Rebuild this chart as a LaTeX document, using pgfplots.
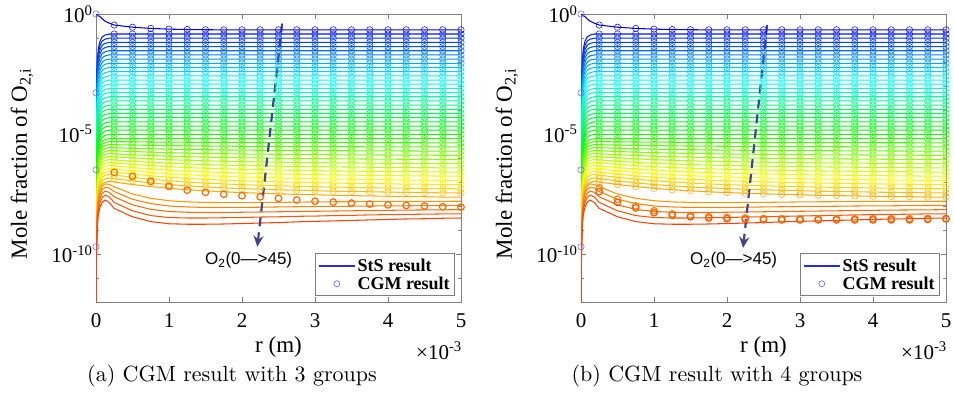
\documentclass[border=0pt]{standalone}
\usepackage{fontspec}
\setmainfont{Liberation Serif}
\newfontfamily\arialf{Liberation Sans}
\usepackage{pgfplots}
\pgfplotsset{compat=1.18}
\usepackage{pgfplotstable}
\usetikzlibrary{arrows.meta}
\definecolor{stsblue}{RGB}{40,40,240}
\definecolor{cgmblue}{RGB}{95,95,255}
\definecolor{arrowc}{RGB}{65,65,150}
\foreach \i in {0,...,45}{\pgfmathtruncatemacro\hh{240-5*\i}\edef\tmp{\noexpand\xglobal\noexpand\definecolor{lv\i}{Hsb}{\hh,1,1}}\tmp}

% StS results: one row per level, columns are the r positions (in 1e-3 m)
\pgfplotstableread{
v a0 a1 a2 a3 a4 a5 a6 a7 a8 a9 a10 a11 a12 a13 a14 a15 a16 a17 a18 a19 a20 a21 a22 a23 a24 a25 a26 a27
r 0 0.006 0.016 0.032 0.055 0.085 0.125 0.18 0.25 0.5 0.75 1 1.25 1.5 1.75 2 2.25 2.5 2.75 3 3.25 3.5 3.75 4 4.25 4.5 4.75 5
L0 1 0.977 0.933 0.871 0.776 0.631 0.501 0.417 0.347 0.282 0.251 0.234 0.226 0.221 0.219 0.219 0.219 0.219 0.219 0.219 0.219 0.219 0.219 0.219 0.219 0.219 0.219 0.219
L1 5.2e-4 6e-4 8.8e-3 3.67e-2 7.33e-2 1.11e-1 1.33e-1 1.466e-1 1.466e-1 1.466e-1 1.466e-1 1.466e-1 1.466e-1 1.466e-1 1.466e-1 1.466e-1 1.466e-1 1.466e-1 1.466e-1 1.466e-1 1.466e-1 1.466e-1 1.466e-1 1.466e-1 1.466e-1 1.466e-1 1.466e-1 1.466e-1
L2 3.2e-7 2.94e-4 5.89e-3 2.45e-2 4.9e-2 7.46e-2 8.93e-2 9.81e-2 9.81e-2 9.81e-2 9.81e-2 9.81e-2 9.81e-2 9.81e-2 9.81e-2 9.81e-2 9.81e-2 9.81e-2 9.81e-2 9.81e-2 9.81e-2 9.81e-2 9.81e-2 9.81e-2 9.81e-2 9.81e-2 9.81e-2 9.81e-2
L3 2e-10 1.97e-4 3.94e-3 1.64e-2 3.29e-2 4.99e-2 5.98e-2 6.57e-2 6.57e-2 6.57e-2 6.57e-2 6.57e-2 6.57e-2 6.57e-2 6.57e-2 6.57e-2 6.57e-2 6.57e-2 6.57e-2 6.57e-2 6.57e-2 6.57e-2 6.57e-2 6.57e-2 6.57e-2 6.57e-2 6.57e-2 6.57e-2
L4 1e-14 1.32e-4 2.64e-3 1.1e-2 2.2e-2 3.34e-2 4.0e-2 4.4e-2 4.4e-2 4.4e-2 4.4e-2 4.4e-2 4.4e-2 4.4e-2 4.4e-2 4.4e-2 4.4e-2 4.4e-2 4.4e-2 4.4e-2 4.4e-2 4.4e-2 4.4e-2 4.4e-2 4.4e-2 4.4e-2 4.4e-2 4.4e-2
L5 1e-14 8.8e-5 1.76e-3 7.35e-3 1.47e-2 2.23e-2 2.68e-2 2.94e-2 2.94e-2 2.94e-2 2.94e-2 2.94e-2 2.94e-2 2.94e-2 2.94e-2 2.94e-2 2.94e-2 2.94e-2 2.94e-2 2.94e-2 2.94e-2 2.94e-2 2.94e-2 2.94e-2 2.94e-2 2.94e-2 2.94e-2 2.94e-2
L6 1e-14 5.9e-5 1.18e-3 4.93e-3 9.85e-3 1.5e-2 1.79e-2 1.97e-2 1.97e-2 1.97e-2 1.97e-2 1.97e-2 1.97e-2 1.97e-2 1.97e-2 1.97e-2 1.97e-2 1.97e-2 1.97e-2 1.97e-2 1.97e-2 1.97e-2 1.97e-2 1.97e-2 1.97e-2 1.97e-2 1.97e-2 1.97e-2
L7 1e-14 3.96e-5 7.91e-4 3.3e-3 6.6e-3 1.0e-2 1.2e-2 1.319e-2 1.319e-2 1.319e-2 1.319e-2 1.319e-2 1.319e-2 1.319e-2 1.319e-2 1.319e-2 1.319e-2 1.319e-2 1.319e-2 1.319e-2 1.319e-2 1.319e-2 1.319e-2 1.319e-2 1.319e-2 1.319e-2 1.319e-2 1.319e-2
L8 1e-14 2.65e-5 5.3e-4 2.21e-3 4.42e-3 6.71e-3 8.04e-3 8.83e-3 8.83e-3 8.83e-3 8.83e-3 8.83e-3 8.83e-3 8.83e-3 8.83e-3 8.83e-3 8.83e-3 8.83e-3 8.83e-3 8.83e-3 8.83e-3 8.83e-3 8.83e-3 8.83e-3 8.83e-3 8.83e-3 8.83e-3 8.83e-3
L9 1e-14 1.77e-5 3.55e-4 1.48e-3 2.96e-3 4.49e-3 5.38e-3 5.91e-3 5.91e-3 5.91e-3 5.91e-3 5.91e-3 5.91e-3 5.91e-3 5.91e-3 5.91e-3 5.91e-3 5.91e-3 5.91e-3 5.91e-3 5.91e-3 5.91e-3 5.91e-3 5.91e-3 5.91e-3 5.91e-3 5.91e-3 5.91e-3
L10 1e-14 1.19e-5 2.38e-4 9.9e-4 1.98e-3 3.01e-3 3.6e-3 3.96e-3 3.96e-3 3.96e-3 3.96e-3 3.96e-3 3.96e-3 3.96e-3 3.96e-3 3.96e-3 3.96e-3 3.96e-3 3.96e-3 3.96e-3 3.96e-3 3.96e-3 3.96e-3 3.96e-3 3.96e-3 3.96e-3 3.96e-3 3.96e-3
L11 1e-14 7.95e-6 1.59e-4 6.63e-4 1.33e-3 2.01e-3 2.41e-3 2.65e-3 2.65e-3 2.65e-3 2.65e-3 2.65e-3 2.65e-3 2.65e-3 2.65e-3 2.65e-3 2.65e-3 2.65e-3 2.65e-3 2.65e-3 2.65e-3 2.65e-3 2.65e-3 2.65e-3 2.65e-3 2.65e-3 2.65e-3 2.65e-3
L12 1e-14 5.31e-6 1.06e-4 4.43e-4 8.85e-4 1.35e-3 1.61e-3 1.77e-3 1.77e-3 1.77e-3 1.77e-3 1.77e-3 1.77e-3 1.77e-3 1.77e-3 1.77e-3 1.77e-3 1.77e-3 1.77e-3 1.77e-3 1.77e-3 1.77e-3 1.77e-3 1.77e-3 1.77e-3 1.77e-3 1.77e-3 1.77e-3
L13 1e-14 3.57e-6 7.14e-5 2.98e-4 5.95e-4 9.04e-4 1.08e-3 1.19e-3 1.19e-3 1.19e-3 1.19e-3 1.19e-3 1.19e-3 1.19e-3 1.19e-3 1.19e-3 1.19e-3 1.19e-3 1.19e-3 1.19e-3 1.19e-3 1.19e-3 1.19e-3 1.19e-3 1.19e-3 1.19e-3 1.19e-3 1.19e-3
L14 1e-14 2.38e-6 4.76e-5 1.99e-4 3.97e-4 6.03e-4 7.23e-4 7.94e-4 7.94e-4 7.94e-4 7.94e-4 7.94e-4 7.94e-4 7.94e-4 7.94e-4 7.94e-4 7.94e-4 7.94e-4 7.94e-4 7.94e-4 7.94e-4 7.94e-4 7.94e-4 7.94e-4 7.94e-4 7.94e-4 7.94e-4 7.94e-4
L15 1e-14 1.6e-6 3.19e-5 1.33e-4 2.66e-4 4.04e-4 4.84e-4 5.32e-4 5.32e-4 5.32e-4 5.32e-4 5.32e-4 5.32e-4 5.32e-4 5.32e-4 5.32e-4 5.32e-4 5.32e-4 5.32e-4 5.32e-4 5.32e-4 5.32e-4 5.32e-4 5.32e-4 5.32e-4 5.32e-4 5.32e-4 5.32e-4
L16 1e-14 1.07e-6 2.14e-5 8.9e-5 1.78e-4 2.71e-4 3.24e-4 3.56e-4 3.56e-4 3.56e-4 3.56e-4 3.56e-4 3.56e-4 3.56e-4 3.56e-4 3.56e-4 3.56e-4 3.56e-4 3.56e-4 3.56e-4 3.56e-4 3.56e-4 3.56e-4 3.56e-4 3.56e-4 3.56e-4 3.56e-4 3.56e-4
L17 1e-14 7.14e-7 1.43e-5 5.95e-5 1.19e-4 1.81e-4 2.17e-4 2.38e-4 2.38e-4 2.38e-4 2.38e-4 2.38e-4 2.38e-4 2.38e-4 2.38e-4 2.38e-4 2.38e-4 2.38e-4 2.38e-4 2.38e-4 2.38e-4 2.38e-4 2.38e-4 2.38e-4 2.38e-4 2.38e-4 2.38e-4 2.38e-4
L18 1e-14 4.77e-7 9.54e-6 3.98e-5 7.95e-5 1.21e-4 1.45e-4 1.59e-4 1.59e-4 1.59e-4 1.59e-4 1.59e-4 1.59e-4 1.59e-4 1.59e-4 1.59e-4 1.59e-4 1.59e-4 1.59e-4 1.59e-4 1.59e-4 1.59e-4 1.59e-4 1.59e-4 1.59e-4 1.59e-4 1.59e-4 1.59e-4
L19 1e-14 3.21e-7 6.42e-6 2.68e-5 5.35e-5 8.13e-5 9.74e-5 1.07e-4 1.07e-4 1.07e-4 1.07e-4 1.07e-4 1.07e-4 1.07e-4 1.07e-4 1.07e-4 1.07e-4 1.07e-4 1.07e-4 1.07e-4 1.07e-4 1.07e-4 1.07e-4 1.07e-4 1.07e-4 1.07e-4 1.07e-4 1.07e-4
L20 1e-14 2.15e-7 4.29e-6 1.79e-5 3.58e-5 5.43e-5 6.51e-5 7.15e-5 7.15e-5 7.15e-5 7.15e-5 7.15e-5 7.15e-5 7.15e-5 7.15e-5 7.15e-5 7.15e-5 7.15e-5 7.15e-5 7.15e-5 7.15e-5 7.15e-5 7.15e-5 7.15e-5 7.15e-5 7.15e-5 7.15e-5 7.15e-5
L21 1e-14 1.43e-7 2.87e-6 1.2e-5 2.39e-5 3.63e-5 4.35e-5 4.78e-5 4.78e-5 4.78e-5 4.78e-5 4.78e-5 4.78e-5 4.78e-5 4.78e-5 4.78e-5 4.78e-5 4.78e-5 4.78e-5 4.78e-5 4.78e-5 4.78e-5 4.78e-5 4.78e-5 4.78e-5 4.78e-5 4.78e-5 4.78e-5
L22 1e-14 9.6e-8 1.92e-6 8.0e-6 1.6e-5 2.43e-5 2.91e-5 3.2e-5 3.2e-5 3.2e-5 3.2e-5 3.2e-5 3.2e-5 3.2e-5 3.2e-5 3.2e-5 3.2e-5 3.2e-5 3.2e-5 3.2e-5 3.2e-5 3.2e-5 3.2e-5 3.2e-5 3.2e-5 3.2e-5 3.2e-5 3.2e-5
L23 1e-14 6.42e-8 1.28e-6 5.35e-6 1.07e-5 1.63e-5 1.95e-5 2.14e-5 2.14e-5 2.14e-5 2.14e-5 2.14e-5 2.14e-5 2.14e-5 2.14e-5 2.14e-5 2.14e-5 2.14e-5 2.14e-5 2.14e-5 2.14e-5 2.14e-5 2.14e-5 2.14e-5 2.14e-5 2.14e-5 2.14e-5 2.14e-5
L24 1e-14 4.32e-8 8.64e-7 3.6e-6 7.2e-6 1.09e-5 1.31e-5 1.44e-5 1.44e-5 1.44e-5 1.44e-5 1.44e-5 1.44e-5 1.44e-5 1.44e-5 1.44e-5 1.44e-5 1.44e-5 1.44e-5 1.44e-5 1.44e-5 1.44e-5 1.44e-5 1.44e-5 1.44e-5 1.44e-5 1.44e-5 1.44e-5
L25 1e-14 2.88e-8 5.77e-7 2.4e-6 4.81e-6 7.3e-6 8.75e-6 9.61e-6 9.61e-6 9.61e-6 9.61e-6 9.61e-6 9.61e-6 9.61e-6 9.61e-6 9.61e-6 9.61e-6 9.61e-6 9.61e-6 9.61e-6 9.61e-6 9.61e-6 9.61e-6 9.61e-6 9.61e-6 9.61e-6 9.61e-6 9.61e-6
L26 1e-14 1.93e-8 3.86e-7 1.61e-6 3.22e-6 4.89e-6 5.85e-6 6.43e-6 6.43e-6 6.43e-6 6.43e-6 6.43e-6 6.43e-6 6.43e-6 6.43e-6 6.43e-6 6.43e-6 6.43e-6 6.43e-6 6.43e-6 6.43e-6 6.43e-6 6.43e-6 6.43e-6 6.43e-6 6.43e-6 6.43e-6 6.43e-6
L27 1e-14 1.45e-8 2.9e-7 1.21e-6 2.42e-6 3.67e-6 4.4e-6 4.83e-6 4.80e-6 4.71e-6 4.64e-6 4.59e-6 4.54e-6 4.50e-6 4.47e-6 4.45e-6 4.42e-6 4.40e-6 4.39e-6 4.37e-6 4.36e-6 4.35e-6 4.34e-6 4.33e-6 4.32e-6 4.31e-6 4.30e-6 4.30e-6
L28 1e-14 1.09e-8 2.18e-7 9.08e-7 1.82e-6 2.76e-6 3.3e-6 3.63e-6 3.59e-6 3.46e-6 3.36e-6 3.28e-6 3.21e-6 3.16e-6 3.11e-6 3.08e-6 3.05e-6 3.02e-6 3.0e-6 2.98e-6 2.96e-6 2.95e-6 2.93e-6 2.92e-6 2.91e-6 2.9e-6 2.89e-6 2.88e-6
L29 1e-14 8.2e-9 1.64e-7 6.83e-7 1.37e-6 2.07e-6 2.48e-6 2.73e-6 2.68e-6 2.54e-6 2.43e-6 2.34e-6 2.27e-6 2.22e-6 2.17e-6 2.13e-6 2.10e-6 2.07e-6 2.05e-6 2.03e-6 2.01e-6 2.0e-6 1.98e-6 1.97e-6 1.96e-6 1.95e-6 1.94e-6 1.93e-6
L30 1e-14 6.1e-9 1.22e-7 5.1e-7 1.02e-6 1.55e-6 1.86e-6 2.04e-6 2.0e-6 1.86e-6 1.76e-6 1.67e-6 1.6e-6 1.55e-6 1.51e-6 1.47e-6 1.45e-6 1.42e-6 1.4e-6 1.38e-6 1.36e-6 1.35e-6 1.34e-6 1.33e-6 1.31e-6 1.31e-6 1.3e-6 1.29e-6
L31 1e-14 4.6e-9 9.2e-8 3.85e-7 7.7e-7 1.17e-6 1.4e-6 1.54e-6 1.49e-6 1.37e-6 1.27e-6 1.19e-6 1.13e-6 1.09e-6 1.05e-6 1.02e-6 9.98e-7 9.75e-7 9.58e-7 9.42e-7 9.26e-7 9.15e-7 9.05e-7 8.94e-7 8.84e-7 8.79e-7 8.69e-7 8.64e-7
L32 1e-14 3.5e-9 7.0e-8 2.9e-7 5.8e-7 8.8e-7 1.06e-6 1.16e-6 1.12e-6 1.01e-6 9.2e-7 8.52e-7 8.01e-7 7.63e-7 7.32e-7 7.08e-7 6.88e-7 6.69e-7 6.55e-7 6.42e-7 6.29e-7 6.21e-7 6.12e-7 6.03e-7 5.95e-7 5.91e-7 5.83e-7 5.79e-7
L33 1e-14 2.6e-9 5.2e-8 2.17e-7 4.33e-7 6.58e-7 7.88e-7 8.66e-7 8.32e-7 7.37e-7 6.64e-7 6.08e-7 5.65e-7 5.34e-7 5.09e-7 4.89e-7 4.73e-7 4.58e-7 4.47e-7 4.37e-7 4.26e-7 4.2e-7 4.13e-7 4.06e-7 4.0e-7 3.96e-7 3.9e-7 3.87e-7
L34 1e-14 1.95e-9 3.9e-8 1.63e-7 3.26e-7 4.95e-7 5.92e-7 6.51e-7 6.21e-7 5.41e-7 4.8e-7 4.34e-7 3.99e-7 3.74e-7 3.54e-7 3.38e-7 3.26e-7 3.14e-7 3.06e-7 2.97e-7 2.89e-7 2.84e-7 2.79e-7 2.74e-7 2.69e-7 2.66e-7 2.61e-7 2.59e-7
L35 1e-14 1.47e-9 2.94e-8 1.23e-7 2.45e-7 3.72e-7 4.46e-7 4.9e-7 4.66e-7 3.99e-7 3.48e-7 3.11e-7 2.83e-7 2.63e-7 2.47e-7 2.35e-7 2.26e-7 2.16e-7 2.1e-7 2.03e-7 1.97e-7 1.93e-7 1.89e-7 1.85e-7 1.81e-7 1.8e-7 1.76e-7 1.74e-7
L36 1e-14 1.1e-9 2.2e-8 9.2e-8 1.84e-7 2.79e-7 3.34e-7 3.67e-7 3.46e-7 2.91e-7 2.51e-7 2.21e-7 1.99e-7 1.84e-7 1.72e-7 1.62e-7 1.55e-7 1.48e-7 1.43e-7 1.38e-7 1.33e-7 1.3e-7 1.27e-7 1.24e-7 1.21e-7 1.2e-7 1.17e-7 1.16e-7
L37 1e-14 8.3e-10 1.66e-8 6.9e-8 1.38e-7 2.1e-7 2.51e-7 2.76e-7 2.59e-7 2.14e-7 1.82e-7 1.58e-7 1.41e-7 1.29e-7 1.2e-7 1.12e-7 1.07e-7 1.01e-7 9.76e-8 9.39e-8 9.04e-8 8.82e-8 8.6e-8 8.38e-8 8.17e-8 8.07e-8 7.87e-8 7.77e-8
L38 1e-14 6.2e-10 1.24e-8 5.2e-8 1.04e-7 1.57e-7 1.88e-7 2.07e-7 1.93e-7 1.57e-7 1.31e-7 1.13e-7 9.95e-8 9.04e-8 8.32e-8 7.76e-8 7.35e-8 6.95e-8 6.67e-8 6.4e-8 6.14e-8 5.97e-8 5.81e-8 5.65e-8 5.5e-8 5.42e-8 5.27e-8 5.2e-8
L39 1e-14 4.4e-10 8.9e-9 3.7e-8 7.4e-8 1.12e-7 1.35e-7 1.48e-7 1.38e-7 1.11e-7 9.2e-8 7.84e-8 6.88e-8 6.22e-8 5.7e-8 5.3e-8 5.0e-8 4.72e-8 4.52e-8 4.33e-8 4.14e-8 4.02e-8 3.91e-8 3.8e-8 3.69e-8 3.63e-8 3.53e-8 3.48e-8
L40 1e-14 3.2e-10 6.4e-9 2.68e-8 5.35e-8 8.1e-8 9.7e-8 1.07e-7 9.87e-8 7.86e-8 6.45e-8 5.46e-8 4.76e-8 4.28e-8 3.91e-8 3.62e-8 3.41e-8 3.21e-8 3.06e-8 2.93e-8 2.8e-8 2.71e-8 2.63e-8 2.55e-8 2.48e-8 2.44e-8 2.36e-8 2.33e-8
L41 1e-14 2.5e-10 5.0e-9 2.08e-8 4.16e-8 6.66e-8 8.32e-8 7.94e-8 6.31e-8 3.16e-8 2.09e-8 1.66e-8 1.48e-8 1.41e-8 1.38e-8 1.38e-8 1.41e-8 1.41e-8 1.45e-8 1.48e-8 1.5e-8 1.51e-8 1.53e-8 1.55e-8 1.55e-8 1.57e-8 1.57e-8 1.58e-8
L42 1e-14 1.81e-10 3.62e-9 1.51e-8 3.02e-8 4.82e-8 6.03e-8 5.62e-8 3.98e-8 1.91e-8 1.26e-8 1.0e-8 9.12e-9 8.71e-9 8.71e-9 8.71e-9 8.91e-9 9.12e-9 9.33e-9 9.55e-9 9.66e-9 9.77e-9 1.0e-8 1.01e-8 1.02e-8 1.04e-8 1.05e-8 1.06e-8
L43 1e-14 1.25e-10 2.5e-9 1.04e-8 2.09e-8 3.34e-8 4.17e-8 3.72e-8 2.4e-8 1.12e-8 7.24e-9 5.89e-9 5.5e-9 5.37e-9 5.37e-9 5.5e-9 5.62e-9 5.75e-9 5.89e-9 6.03e-9 6.17e-9 6.31e-9 6.46e-9 6.61e-9 6.76e-9 6.84e-9 6.92e-9 7.06e-9
L44 1e-14 8.5e-11 1.69e-9 7.05e-9 1.41e-8 2.26e-8 2.82e-8 2.4e-8 1.41e-8 6.31e-9 3.98e-9 3.31e-9 3.16e-9 3.16e-9 3.24e-9 3.31e-9 3.47e-9 3.55e-9 3.72e-9 3.8e-9 3.98e-9 4.07e-9 4.27e-9 4.37e-9 4.47e-9 4.57e-9 4.68e-9 4.73e-9
L45 1e-14 5.3e-11 1.07e-9 4.45e-9 8.9e-9 1.42e-8 1.78e-8 1.41e-8 7.94e-9 3.55e-9 2.24e-9 1.82e-9 1.74e-9 1.74e-9 1.78e-9 1.86e-9 1.95e-9 2.04e-9 2.19e-9 2.29e-9 2.4e-9 2.51e-9 2.63e-9 2.75e-9 2.88e-9 2.95e-9 3.09e-9 3.16e-9
}\stsraw
\pgfplotstabletranspose[colnames from=v]\sts\stsraw

% CGM circles at r = 0
\pgfplotstableread{
r y
0 1
0 5.2e-4
0 3.2e-7
0 2e-10
}\czero

% CGM, 3 groups: last group
\pgfplotstableread{
r y
0.25 2.51e-7
0.5 1.74e-7
0.75 1.07e-7
1 6.61e-8
1.25 4.57e-8
1.5 3.72e-8
1.75 3.09e-8
2 2.69e-8
2.25 2.4e-8
2.5 2.09e-8
2.75 1.78e-8
3 1.58e-8
3.25 1.45e-8
3.5 1.32e-8
3.75 1.2e-8
4 1.12e-8
4.25 1.05e-8
4.5 1.0e-8
4.75 9.33e-9
5 8.91e-9
}\tthree

% CGM, 4 groups: last group
\pgfplotstableread{
r ya yb
0.25 5.62e-8 3.98e-8
0.5 1.91e-8 1.41e-8
0.75 1.0e-8 8.32e-9
1 6.31e-9 5.25e-9
1.25 4.68e-9 4.07e-9
1.5 3.98e-9 3.55e-9
1.75 3.55e-9 3.16e-9
2 3.31e-9 2.95e-9
2.25 3.16e-9 2.82e-9
2.5 3.02e-9 2.69e-9
2.75 2.95e-9 2.63e-9
3 2.95e-9 2.63e-9
3.25 2.95e-9 2.63e-9
3.5 2.95e-9 2.63e-9
3.75 2.95e-9 2.63e-9
4 2.95e-9 2.63e-9
4.25 2.95e-9 2.63e-9
4.5 2.95e-9 2.63e-9
4.75 3.0e-9 2.75e-9
5 3.02e-9 2.88e-9
}\tfour

\begin{document}
\begin{tikzpicture}
\path[use as bounding box] (0,0) rectangle (954pt,397pt);
% ---------- (a) ----------
\begin{axis}[at={(96pt,95pt)}, anchor=south west,
  width=365pt, height=288pt, scale only axis,
  xmin=0, xmax=5, ymin=1e-12, ymax=1, ymode=log,
  xtick={0,1,2,3,4,5},
  ytick={1e-10,1e-5,1},
  yticklabels={10\textsuperscript{-10},10\textsuperscript{-5},10\textsuperscript{0}},
  minor ytick={1e-12,1e-11,1e-9,1e-8,1e-7,1e-6,1e-4,1e-3,1e-2,1e-1},
  tick align=inside, major tick length=5pt, minor tick length=3pt,
  axis line style={black!50, line width=0.6pt},
  tick style={black!50, line width=0.6pt},
  tick label style={font=\fontsize{21}{24}\selectfont, black},
  xticklabel style={anchor=center, yshift=-19pt},
  /pgf/number format/assume math mode=true,
  legend style={at={(1,0)}, anchor=south east, xshift=-6pt, yshift=6pt, draw=black!50, line width=0.6pt, font=\fontsize{18}{21}\selectfont\bfseries, inner sep=3pt},
  legend cell align=left,
  legend image code/.code={\draw[mark repeat=2,mark phase=2,#1] plot coordinates {(0pt,0pt) (18pt,0pt) (36pt,0pt)};}]
  \addlegendimage{stsblue, line width=1.6pt}
  \addlegendentry{StS result}
  \addlegendimage{only marks, mark=o, mark size=3pt, cgmblue, line width=0.6pt}
  \addlegendentry{CGM result}
  \pgfplotsinvokeforeach{0,...,45}{\addplot[lv#1, line width=1.05pt, forget plot] table[x=r,y=L#1]{\sts};}
  \pgfplotsinvokeforeach{0,...,39}{\addplot[lv#1, only marks, mark=o, mark size=3.2pt, line width=0.5pt, forget plot, skip coords between index={0}{8}] table[x=r,y=L#1]{\sts};}
  \addplot[lv43, only marks, mark=o, mark size=3.3pt, line width=1.2pt, forget plot] table[x=r,y=y]{\tthree};
  \addplot[cgmblue, only marks, mark=o, mark size=3.2pt, line width=0.5pt, forget plot] table[x=r,y=y]{\czero};
  \draw[arrowc, line width=2.2pt, dash pattern=on 9pt off 6pt, -{Stealth[length=11pt,width=10pt]}] (axis cs:2.55,0.4) -- (axis cs:2.21,2e-10);
\end{axis}
% ---------- (b) ----------
\begin{axis}[at={(581pt,95pt)}, anchor=south west,
  width=365pt, height=288pt, scale only axis,
  xmin=0, xmax=5, ymin=1e-12, ymax=1, ymode=log,
  xtick={0,1,2,3,4,5},
  ytick={1e-10,1e-5,1},
  yticklabels={10\textsuperscript{-10},10\textsuperscript{-5},10\textsuperscript{0}},
  minor ytick={1e-12,1e-11,1e-9,1e-8,1e-7,1e-6,1e-4,1e-3,1e-2,1e-1},
  tick align=inside, major tick length=5pt, minor tick length=3pt,
  axis line style={black!50, line width=0.6pt},
  tick style={black!50, line width=0.6pt},
  tick label style={font=\fontsize{21}{24}\selectfont, black},
  xticklabel style={anchor=center, yshift=-19pt},
  /pgf/number format/assume math mode=true,
  legend style={at={(1,0)}, anchor=south east, xshift=-6pt, yshift=6pt, draw=black!50, line width=0.6pt, font=\fontsize{18}{21}\selectfont\bfseries, inner sep=3pt},
  legend cell align=left,
  legend image code/.code={\draw[mark repeat=2,mark phase=2,#1] plot coordinates {(0pt,0pt) (18pt,0pt) (36pt,0pt)};}]
  \addlegendimage{stsblue, line width=1.6pt}
  \addlegendentry{StS result}
  \addlegendimage{only marks, mark=o, mark size=3pt, cgmblue, line width=0.6pt}
  \addlegendentry{CGM result}
  \pgfplotsinvokeforeach{0,...,45}{\addplot[lv#1, line width=1.05pt, forget plot] table[x=r,y=L#1]{\sts};}
  \pgfplotsinvokeforeach{0,...,40}{\addplot[lv#1, only marks, mark=o, mark size=3.2pt, line width=0.5pt, forget plot, skip coords between index={0}{8}] table[x=r,y=L#1]{\sts};}
  \addplot[lv42, only marks, mark=o, mark size=3.3pt, line width=1.1pt, forget plot] table[x=r,y=ya]{\tfour};
  \addplot[lv44, only marks, mark=o, mark size=3.3pt, line width=1.1pt, forget plot] table[x=r,y=yb]{\tfour};
  \addplot[cgmblue, only marks, mark=o, mark size=3.2pt, line width=0.5pt, forget plot] table[x=r,y=y]{\czero};
  \draw[arrowc, line width=2.2pt, dash pattern=on 9pt off 6pt, -{Stealth[length=11pt,width=10pt]}] (axis cs:2.55,0.35) -- (axis cs:2.22,1.8e-10);
\end{axis}
% ---------- labels ----------
\foreach \dx/\cap in {0/{(a) CGM result with 3 groups}, 485/{(b) CGM result with 4 groups}}{
  \node[font=\fontsize{23}{26}\selectfont, rotate=90] at (22pt+\dx pt,233pt) {Mole fraction of O\textsubscript{2,i}};
  \node[font=\fontsize{23}{26}\selectfont] at (278.5pt+\dx pt,50pt) {r (m)};
  \node[font=\fontsize{21}{24}\selectfont, anchor=north east, inner sep=0pt] at (462pt+\dx pt,55pt) {×10\textsuperscript{-3}};
  \node[font=\arialf\fontsize{17}{20}\selectfont, anchor=base west, inner sep=0pt] at (205pt+\dx pt,132pt) {O\textsubscript{2}(0—>45)};
  \node[font=\fontfamily{lmr}\fontsize{10}{12}\selectfont, scale=2.2] at (232pt+\dx pt,21pt) {\cap};
}
\end{tikzpicture}
\end{document}
